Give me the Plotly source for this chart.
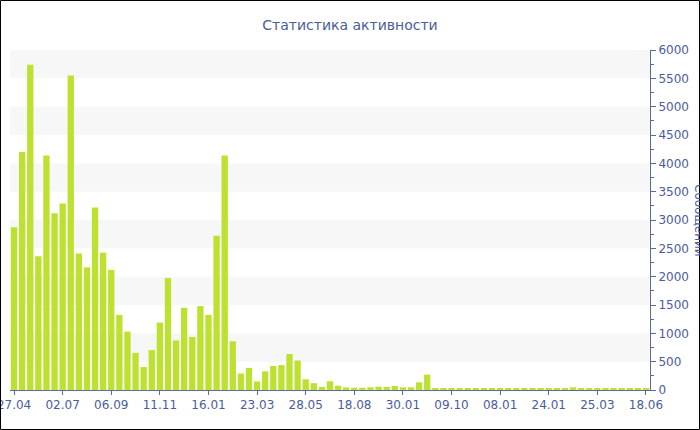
import plotly.graph_objects as go

title_text = "Статистика активности"
y_title = "Сообщений"

# one value per bar (79 periods)
values = [2870, 4200, 5740, 2360, 4140, 3120, 3290, 5550, 2410, 2165,
          3220, 2420, 2120, 1325, 1030, 655, 405, 705, 1190, 1975,
          875, 1450, 935, 1480, 1325, 2720, 4140, 860, 290, 390,
          150, 330, 425, 440, 635, 520, 190, 120, 55, 155,
          75, 45, 40, 40, 47, 59, 53, 71, 47, 47,
          135, 271, 35, 29, 35, 35, 24, 29, 24, 20,
          20, 18, 18, 20, 20, 22, 30, 28, 30, 47,
          28, 35, 22, 20, 24, 35, 22, 22, 24]
positions = list(range(len(values)))

tick_positions = [0, 6, 12, 18, 24, 30, 36, 42, 48, 54, 60, 66, 72, 78]
tick_labels = ["27.04", "02.07", "06.09", "11.11", "16.01", "23.03", "28.05",
               "18.08", "30.01", "09.10", "08.01", "24.01", "25.03", "18.06"]

band_starts = [500, 1500, 2500, 3500, 4500, 5500]
band_size = 500

text_color = "#4b5c9d"
axis_color = "#5a6aa8"
bar_color = "#bde130"

W, H = 700, 430
ML, MR, MT, MB = 10, 50, 50, 40
PW, PH = W - ML - MR, H - MT - MB

fig = go.Figure()
fig.add_trace(go.Bar(x=positions, y=values, marker=dict(color=bar_color, line=dict(width=0)),
                     hoverinfo="x+y"))

shapes = []
for s in band_starts:
    shapes.append(dict(type="rect", xref="paper", yref="y", x0=0, x1=1, y0=s, y1=s + band_size,
                       fillcolor="#f7f7f7", line=dict(width=0), layer="below"))
# outer frame
shapes.append(dict(type="rect", xref="paper", yref="paper",
                   x0=(0.5 - ML) / PW, x1=(699.5 - ML) / PW,
                   y0=(MT + PH - 429.5) / PH, y1=(MT + PH - 0.5) / PH,
                   line=dict(color="black", width=1), fillcolor="rgba(0,0,0,0)"))

fig.update_layout(
    width=W, height=H,
    margin=dict(l=ML, r=MR, t=MT, b=MB, autoexpand=False),
    paper_bgcolor="white", plot_bgcolor="white",
    showlegend=False,
    bargap=0.22,
    font=dict(family="DejaVu Sans", size=12, color=text_color),
    title=dict(text=title_text, x=0.5, xref="container", xanchor="center",
               y=1 - 25 / H, yref="container", yanchor="middle",
               font=dict(family="DejaVu Sans", size=14, color=text_color)),
    xaxis=dict(range=[-0.5, len(values) - 0.5], tickmode="array",
               tickvals=tick_positions, ticktext=tick_labels,
               showline=True, linecolor=axis_color, linewidth=1,
               ticks="outside", ticklen=4, tickcolor=axis_color,
               showgrid=False, zeroline=False, automargin=False,
               ticklabeloverflow="allow",
               tickfont=dict(size=12, color=text_color)),
    yaxis=dict(side="right", range=[0, 6000], dtick=500,
               showline=True, linecolor=axis_color, linewidth=1,
               ticks="outside", ticklen=5, tickcolor=axis_color,
               minor=dict(dtick=250, ticks="outside", ticklen=3, tickcolor=axis_color),
               showgrid=False, zeroline=False, automargin=False,
               ticklabeloverflow="allow",
               tickfont=dict(size=12, color=text_color)),
    shapes=shapes,
    annotations=[dict(text=y_title, xref="paper", yref="paper",
                      x=(699 - ML) / PW, y=0.5, xanchor="center", yanchor="middle",
                      textangle=90, showarrow=False,
                      font=dict(family="DejaVu Sans", size=12, color=text_color))],
)

fig.write_html("out.html",
               config={"displayModeBar": False},
               post_script="document.body.style.margin='0';document.body.style.padding='0';")
